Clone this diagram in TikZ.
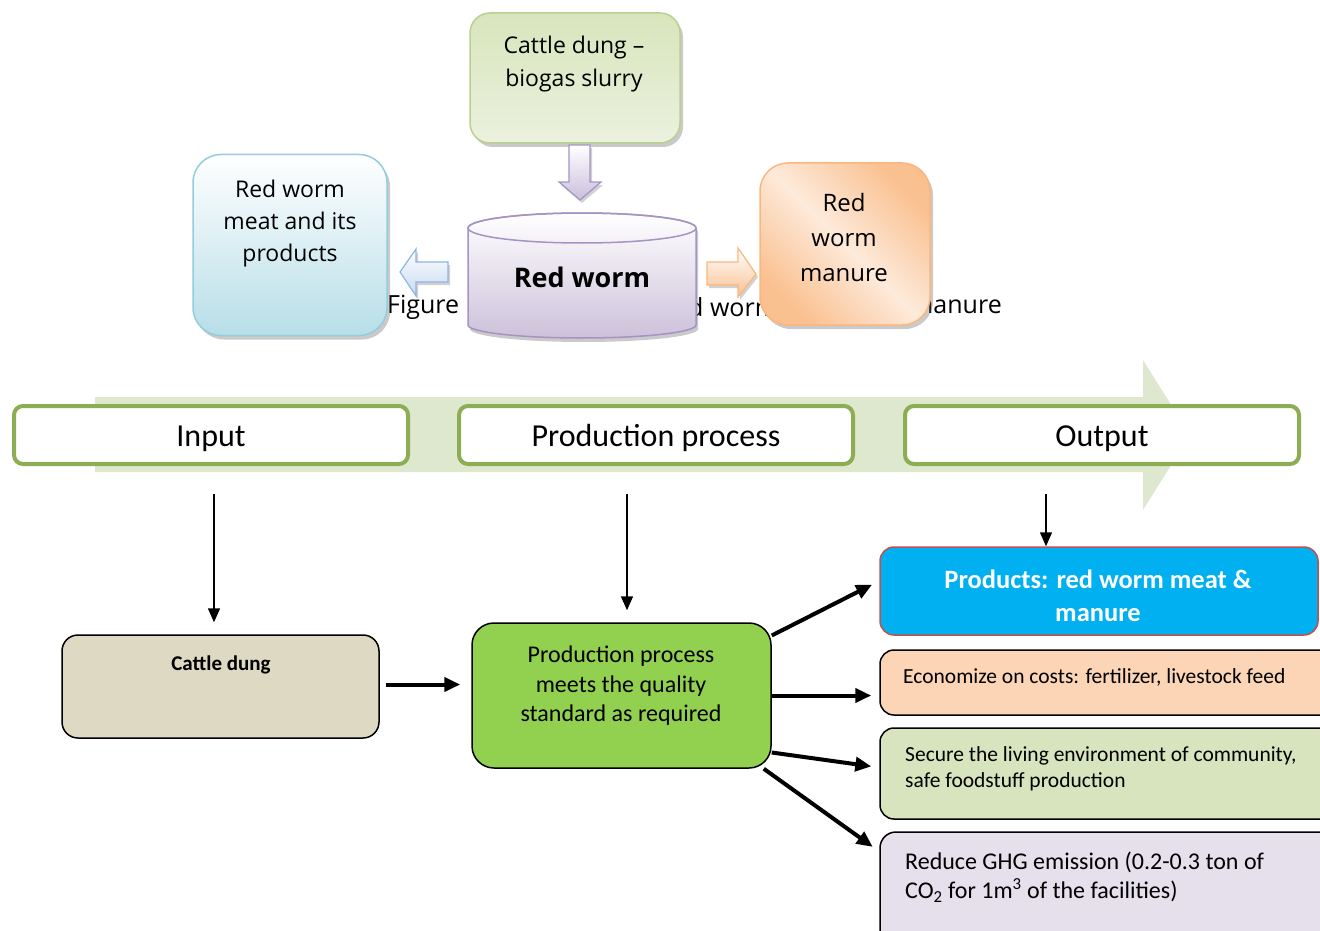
\documentclass[tikz,border=0pt]{standalone}
\usepackage{fontspec}
\setmainfont{Carlito}
\newfontfamily\segoe{Open Sans}
\usetikzlibrary{positioning,shadows,arrows.meta}
\begin{document}
\begin{tikzpicture}[x=1pt,y=-1pt,
  softbox/.style={rectangle,rounded corners=#1,line width=1.5pt,
    drop shadow={shadow xshift=3pt,shadow yshift=-4pt,opacity=0.35,fill=black!60}},
  toptext/.style={font=\segoe\fontsize{23}{33}\selectfont,align=center,inner sep=0pt},
  captext/.style={font=\segoe\fontsize{25}{30}\selectfont,inner sep=0pt},
  blockarrow/.style={line width=1.2pt,line join=miter,
    drop shadow={shadow xshift=2pt,shadow yshift=-3pt,opacity=0.3,fill=black!60}},
  stagebox/.style={rectangle,rounded corners=9pt,draw=stagecolor,line width=4pt,fill=white,
    minimum width=394pt,minimum height=58pt,text height=25pt,text depth=2pt,
    font=\fontsize{32}{36}\selectfont},
  flowbox/.style={rectangle,rounded corners=#1,draw=black,line width=1.5pt},
  plaintext/.style={inner sep=0pt},
  thinarrow/.style={line width=1.5pt,-{Triangle[length=14pt,width=12pt]}},
  thickarrow/.style={line width=4pt,-{Triangle[length=16pt,width=14pt]}},
]
\definecolor{slurryA}{HTML}{D8E5BC}
\definecolor{slurryB}{HTML}{EBF1DE}
\definecolor{slurryline}{HTML}{B9D08F}
\definecolor{meatB}{HTML}{B7DEE8}
\definecolor{meatline}{HTML}{93CDDD}
\definecolor{wormB}{HTML}{CCC1DA}
\definecolor{wormline}{HTML}{A593C4}
\definecolor{manureD}{HTML}{FAC090}
\definecolor{manureL}{HTML}{FDEADA}
\definecolor{manureline}{HTML}{F9B77E}
\definecolor{feedB}{HTML}{C9BEDC}
\definecolor{backB}{HTML}{C6D9F1}
\definecolor{backline}{HTML}{8EB4E3}
\definecolor{bandcolor}{HTML}{DDE8CF}
\definecolor{stagecolor}{HTML}{8DAD52}
\definecolor{dungcolor}{HTML}{DDD9C3}
\definecolor{qualcolor}{HTML}{92D050}
\definecolor{prodcolor}{HTML}{00B0F0}
\definecolor{prodline}{HTML}{C0504D}
\definecolor{econcolor}{HTML}{FBD5B5}
\definecolor{securecolor}{HTML}{D7E4BD}
\definecolor{reducecolor}{HTML}{E5E0EC}
\useasboundingbox (0,0) rectangle (1320,931);
% caption pieces behind the top boxes
\node[captext,anchor=west] (capfig) at (387,307) {Figure};
\node[captext,anchor=west] (capworm) at (688,307) {d worm};
\node[captext,anchor=east] (capmanure) at (1002,307) {manure};
% top: red worm raising
\node[softbox=20pt,draw=slurryline,top color=slurryA,bottom color=slurryB,
  minimum width=210pt,minimum height=130pt] (slurry) at (575,78) {};
\node[toptext] (slurrytxt) at (574,64) {Cattle dung –\\biogas slurry};
\node[softbox=28pt,draw=meatline,top color=white,bottom color=meatB,
  minimum width=194pt,minimum height=181pt] (meat) at (290,245) {};
\node[toptext,font=\segoe\fontsize{23}{32}\selectfont] (meattxt) at (290,224) {Red worm\\meat and its\\products};
\path[line width=1.5pt,draw=wormline,top color=white,bottom color=wormB,
  drop shadow={shadow xshift=2pt,shadow yshift=-4pt,opacity=0.35,fill=black!60}]
  (468,228) -- (468,325) arc[start angle=180,end angle=0,x radius=114,y radius=13]
  -- (696,228) arc[start angle=0,end angle=-180,x radius=114,y radius=15] -- cycle;
\draw[line width=1.5pt,draw=wormline] (582,228) ellipse[x radius=114,y radius=15];
\node[plaintext,font=\segoe\bfseries\fontsize{27}{32}\selectfont] (worm) at (582,277) {Red worm};
\node[softbox=28pt,draw=manureline,top color=manureD,bottom color=manureD,middle color=manureL,
  shading angle=-45,minimum width=170pt,minimum height=162pt] (manure) at (845,244) {};
\node[toptext,font=\segoe\fontsize{24}{35}\selectfont] (manuretxt) at (844,237) {Red\\worm\\manure};
% block arrows
\path[blockarrow,draw=wormline,top color=white,bottom color=feedB]
  (569,145) -- (590,145) -- (590,182) -- (601,182) -- (580,200) -- (559,182) -- (569,182) -- cycle;
\path[blockarrow,draw=backline,top color=white,bottom color=backB]
  (448,262) -- (416,262) -- (416,249) -- (400,272) -- (416,296) -- (416,282) -- (448,282) -- cycle;
\path[blockarrow,draw=manureline,top color=white,bottom color=manureD]
  (707,262) -- (738,262) -- (738,248) -- (756,274) -- (738,297) -- (738,285) -- (707,285) -- cycle;
% stages band
\fill[bandcolor] (95,397) -- (1143,397) -- (1143,360) -- (1190,435) -- (1143,510) -- (1143,472) -- (95,472) -- cycle;
\node[stagebox] (input) at (211,435) {Input};
\node[stagebox] (process) at (656,435) {Production process};
\node[stagebox] (output) at (1102,435) {Output};
% flow boxes
\node[flowbox=16pt,fill=dungcolor,minimum width=317pt,minimum height=103pt] (dung) at (220.5,686.5) {};
\node[plaintext,font=\bfseries\fontsize{21}{24}\selectfont] (dungtxt) at (221,665) {Cattle dung};
\node[flowbox=22pt,fill=qualcolor,minimum width=299pt,minimum height=145pt] (quality) at (621.5,695.5) {};
\node[plaintext,align=center,font=\fontsize{24}{29.5}\selectfont] (qualitytxt) at (621,686)
  {Production process\\meets the quality\\standard as required};
\node[flowbox=14pt,draw=prodline,fill=prodcolor,minimum width=438pt,minimum height=88pt] (products) at (1099,591) {};
\node[plaintext,align=center,text=white,font=\bfseries\fontsize{26.5}{33}\selectfont] (productstxt) at (1098,595.5)
  {Products: red worm meat \&\\manure};
\node[flowbox=14pt,fill=econcolor,minimum width=460pt,minimum height=65pt] (econ) at (1110,682.5) {};
\node[plaintext,anchor=west,font=\fontsize{21.5}{26}\selectfont] (econtxt) at (903,677)
  {Economize on costs: fertilizer, livestock feed};
\node[flowbox=14pt,fill=securecolor,minimum width=460pt,minimum height=91pt] (secure) at (1110,773.5) {};
\node[plaintext,anchor=west,align=left,font=\fontsize{21.5}{26}\selectfont] (securetxt) at (905,769)
  {Secure the living environment of community,\\safe foodstuff production};
\node[flowbox=16pt,fill=reducecolor,minimum width=460pt,minimum height=115pt] (reduce) at (1110,889.5) {};
\node[plaintext,anchor=west,align=left,font=\fontsize{24}{29}\selectfont] (reducetxt) at (905,877.5)
  {Reduce GHG emission (0.2-0.3 ton of\\CO\textsubscript{2} for 1m\textsuperscript{3} of the facilities)};
% connectors
\draw[thinarrow,shorten >=12pt] ([xshift=3pt,yshift=-28pt]input.south) -- ([xshift=3pt]input.south |- dung.north);
\draw[thinarrow,shorten >=12pt] ([xshift=-29pt,yshift=-28pt]process.south) -- ([xshift=-29pt]process.south |- quality.north);
\draw[thinarrow] ([xshift=-56pt,yshift=-28pt]output.south) -- ([xshift=-56pt]output.south |- products.north);
\draw[thickarrow,shorten <=6pt,shorten >=11pt] ([yshift=2pt]dung.east) -- ([yshift=2pt]dung.east -| quality.west);
\draw[thickarrow,shorten >=8pt] ([yshift=60pt]quality.east) -- ([yshift=10pt]products.west);
\draw[thickarrow,shorten >=8pt] (quality.east) -- (quality.east -| econ.west);
\draw[thickarrow,shorten >=8pt] ([yshift=-57pt]quality.east) -- ([yshift=6pt]secure.west);
\draw[thickarrow,shorten >=8pt] ([xshift=-8pt]quality.south east) -- ([yshift=38pt]reduce.west);
\end{tikzpicture}
\end{document}
